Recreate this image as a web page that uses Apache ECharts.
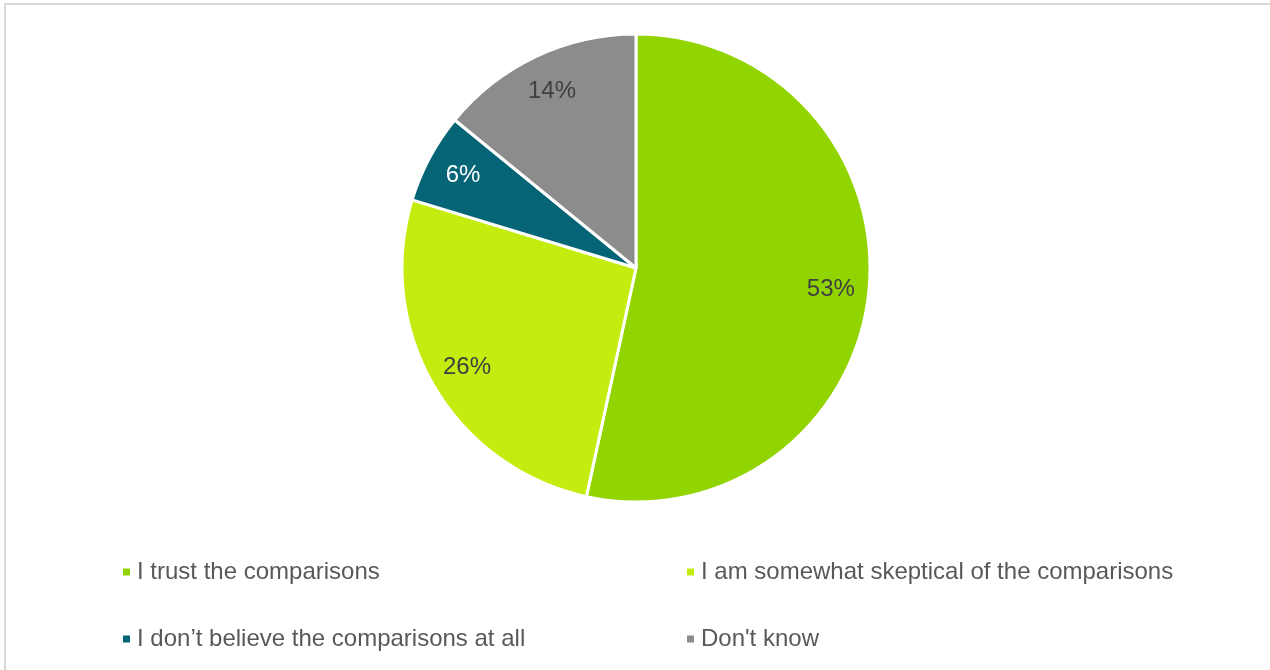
<!DOCTYPE html>
<html>
<head>
<meta charset="utf-8">
<script src="https://cdn.jsdelivr.net/npm/echarts@6/dist/echarts.min.js"></script>
<style>
html,body{margin:0;padding:0;background:#fff;}
#chart{width:1270px;height:670px;}
</style>
</head>
<body>
<div id="chart"></div>
<script>
const categories = [
  'I trust the comparisons',
  'I am somewhat skeptical of the comparisons',
  'I don\u2019t believe the comparisons at all',
  "Don't know"
];
const values = [53.4, 26.3, 6.2, 14.1];
const colors = ['#92D400', '#C5EC0F', '#056577', '#8C8C8C'];
const labelColors = ['#404040', '#404040', '#FFFFFF', '#404040'];

const chart = echarts.init(document.getElementById('chart'), null, {renderer: 'canvas'});
const font = 'Liberation Sans, Arial, sans-serif';

const pieData = categories.map((c, i) => ({
  name: c, value: values[i], itemStyle: {color: colors[i]}
}));
const labelData = categories.map((c, i) => ({
  name: c, value: values[i],
  label: {color: labelColors[i]}
}));

const legendCommon = {
  orient: 'vertical',
  icon: 'rect',
  itemWidth: 9,
  itemHeight: 9,
  itemGap: 43,
  textStyle: {fontFamily: font, fontSize: 24, color: '#595959', padding: [0, 0, 0, 1]},
  selectedMode: false
};

chart.setOption({
  animation: false,
  backgroundColor: '#fff',
  color: colors,
  graphic: [{
    type: 'rect',
    shape: {x: 5, y: 4, width: 1300, height: 700},
    style: {fill: 'none', stroke: '#D9D9D9', lineWidth: 2},
    silent: true
  }],
  legend: [
    Object.assign({}, legendCommon, {data: [categories[0], categories[2]], left: 116, top: 555}),
    Object.assign({}, legendCommon, {data: [categories[1], categories[3]], left: 680, top: 555})
  ],
  series: [
    {
      type: 'pie',
      center: [636, 268],
      radius: [0, 234],
      startAngle: 90,
      clockwise: true,
      data: pieData,
      label: {show: false},
      labelLine: {show: false},
      itemStyle: {borderColor: '#fff', borderWidth: 3},
      emphasis: {disabled: true}
    },
    {
      type: 'pie',
      center: [636, 268],
      radius: [152, 234],
      startAngle: 90,
      clockwise: true,
      data: labelData,
      itemStyle: {color: 'rgba(0,0,0,0)'},
      label: {
        show: true,
        position: 'inside',
        fontFamily: font,
        fontSize: 24,
        formatter: p => Math.round(p.value) + '%'
      },
      labelLine: {show: false},
      legendHoverLink: false,
      silent: true,
      emphasis: {disabled: true}
    }
  ]
});
</script>
</body>
</html>
